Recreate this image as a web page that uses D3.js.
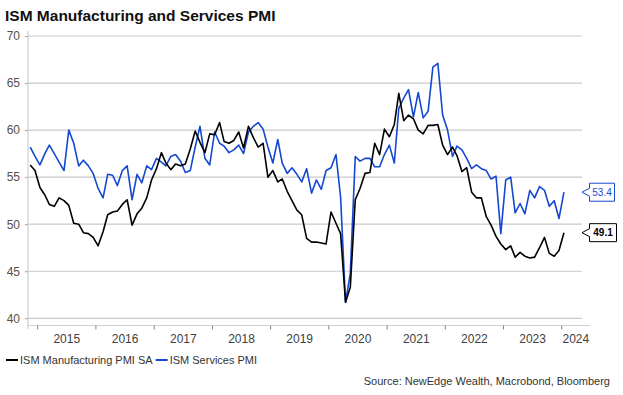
<!DOCTYPE html>
<html>
<head>
<meta charset="utf-8">
<script src="https://cdn.jsdelivr.net/npm/d3@7"></script>
<style>
  html, body { margin: 0; padding: 0; background: #fff; }
  svg { display: block; font-family: "Liberation Sans", Arial, sans-serif; }
</style>
</head>
<body>
<svg id="chart" width="623" height="395"></svg>
<script>
// ---- Data ----
const title = "ISM Manufacturing and Services PMI";
const sourceText = "Source: NewEdge Wealth, Macrobond, Bloomberg";
const seriesNames = ["ISM Manufacturing PMI SA", "ISM Services PMI"];
const startMonth = "2014-11"; // first monthly observation
const yearLabels = ["2015","2016","2017","2018","2019","2020","2021","2022","2023","2024"];
const yTicks = [40, 45, 50, 55, 60, 65, 70];

const manufacturing = [
  56.3, 55.7, 53.9, 53.1, 52.1, 51.9, 52.8, 52.5, 52.0, 50.1, 50.0, 49.1,
  49.0, 48.6, 47.7, 49.2, 51.0, 51.3, 51.4, 52.1, 52.6, 49.9, 51.1, 51.7,
  52.8, 54.7, 55.9, 57.6, 56.5, 55.8, 56.4, 56.2, 56.4, 58.0, 59.9, 58.7,
  57.6, 59.6, 59.5, 60.8, 58.8, 58.6, 58.9, 59.8, 58.1, 60.4, 59.2, 58.2,
  58.6, 55.0, 55.7, 54.5, 54.8, 53.5, 52.5, 51.5, 51.0, 48.5, 48.1, 48.1,
  48.0, 47.9, 51.3, 50.1, 49.0, 41.7, 43.3, 52.6, 53.8, 55.4, 55.5, 58.6,
  57.4, 60.1, 59.3, 60.6, 63.9, 61.0, 61.6, 61.2, 60.0, 59.6, 60.5, 60.5,
  60.6, 58.4, 57.4, 58.2, 57.3, 55.6, 56.0, 53.4, 52.8, 52.8, 50.8, 49.9,
  48.7, 47.9, 47.3, 47.7, 46.5, 47.0, 46.6, 46.4, 46.5, 47.5, 48.6, 46.9,
  46.6, 47.2, 49.1
];
const services = [
  58.2, 57.2, 56.3, 57.5, 58.4, 57.5, 56.6, 55.7, 60.0, 58.6, 56.2, 56.8,
  56.2, 55.4, 53.8, 52.8, 55.3, 55.2, 54.1, 55.7, 56.2, 52.6, 55.3, 54.4,
  56.2, 55.8, 57.0, 56.6, 56.2, 57.2, 57.4, 56.7, 55.5, 55.7, 58.2, 60.4,
  57.0, 56.3, 59.8, 58.6, 58.3, 57.6, 57.9, 58.4, 57.5, 59.8, 60.4, 60.8,
  60.1, 58.2, 56.5, 59.0, 56.5, 55.4, 56.0, 55.3, 54.5, 55.9, 53.3, 54.7,
  53.7, 55.7, 56.0, 57.4, 52.9, 41.7, 44.8, 57.2, 56.7, 57.0, 57.0, 56.1,
  56.1, 57.4, 58.4, 56.5, 62.3, 63.4, 64.3, 61.4, 64.0, 61.3, 62.0, 66.7,
  67.1, 61.6, 60.0, 57.2, 58.3, 57.9, 57.0, 55.9, 56.3, 55.9, 55.7, 54.8,
  55.1, 49.0, 54.7, 55.0, 51.2, 52.2, 51.1, 53.6, 52.8, 54.0, 53.6, 51.9,
  52.5, 50.6, 53.4
];
const colors = ["#000000", "#1448d1"];

// ---- Layout ----
const svg = d3.select("#chart");
const plot = { left: 28, right: 582, top: 36, bottom: 318.3, axisY: 325.5, axisRight: 590 };

const parseMonth = d3.utcParse("%Y-%m");
const start = parseMonth(startMonth);
const dates = manufacturing.map((_, i) => {
  const m = d3.utcMonth.offset(start, i);
  return new Date(Date.UTC(m.getUTCFullYear(), m.getUTCMonth(), 15));
});

const x = d3.scaleUtc()
  .domain([new Date(Date.UTC(2015,0,1)), new Date(Date.UTC(2024,0,1))])
  .range([37.7, 561.7]);
const y = d3.scaleLinear().domain([40, 70]).range([plot.bottom, plot.top]);

// gridlines
svg.append("g").selectAll("line").data(yTicks).join("line")
  .attr("x1", plot.left).attr("x2", plot.right)
  .attr("y1", d => y(d)).attr("y2", d => y(d))
  .attr("stroke", "#c9c9c9").attr("stroke-width", 1.2);

// y axis
const yAxis = svg.append("g").attr("transform", `translate(${plot.left},0)`)
  .call(d3.axisLeft(y).tickValues(yTicks).tickSize(3).tickPadding(5).tickFormat(d3.format("d")));
yAxis.select(".domain").remove();
yAxis.selectAll(".tick line").attr("stroke", "#9a9a9a");
yAxis.selectAll("text").attr("fill", "#5a4f48").attr("font-size", 12)
  .attr("font-family", "'Liberation Sans', Arial, sans-serif");
svg.append("line").attr("x1", plot.left).attr("x2", plot.left)
  .attr("y1", 31).attr("y2", 329).attr("stroke", "#cfcfcf").attr("stroke-width", 1.2);

// x axis
const yearTicks = yearLabels.map(s => new Date(Date.UTC(+s, 0, 1)));
svg.append("line").attr("x1", plot.left).attr("x2", plot.axisRight)
  .attr("y1", plot.axisY).attr("y2", plot.axisY).attr("stroke", "#cfcfcf").attr("stroke-width", 1.2);
svg.append("g").selectAll("line").data(yearTicks).join("line")
  .attr("x1", d => x(d)).attr("x2", d => x(d))
  .attr("y1", plot.axisY).attr("y2", plot.axisY + 4)
  .attr("stroke", "#808080").attr("stroke-width", 1);
svg.append("g").selectAll("text").data(yearLabels).join("text")
  .attr("x", (d, i) => {
    const a = x(yearTicks[i]);
    const b = i < yearTicks.length - 1 ? x(yearTicks[i + 1]) : plot.axisRight;
    return (a + b) / 2;
  })
  .attr("y", 343).attr("text-anchor", "middle")
  .attr("font-size", 12).attr("fill", "#404040").text(d => d);

// lines
const line = d3.line().x((d, i) => x(dates[i])).y(d => y(d));
[services, manufacturing].forEach((s, k) => {
  const c = k === 0 ? colors[1] : colors[0];
  svg.append("path").datum(s).attr("d", line)
    .attr("fill", "none").attr("stroke", c).attr("stroke-width", 1.6)
    .attr("stroke-linejoin", "round");
});

// end labels (callouts)
function callout(val, color, bold, w) {
  const yy = y(val);
  const x0 = plot.right + 7.5, tip = plot.right;
  const p = d3.path();
  p.moveTo(x0, yy - 4); p.lineTo(x0, yy - 9); p.lineTo(x0 + w, yy - 9);
  p.lineTo(x0 + w, yy + 9); p.lineTo(x0, yy + 9); p.lineTo(x0, yy + 4);
  p.lineTo(tip, yy); p.closePath();
  svg.append("path").attr("d", p.toString()).attr("fill", "#fff")
    .attr("stroke", color).attr("stroke-width", 1);
  svg.append("text").attr("x", x0 + w / 2).attr("y", yy + 3.6)
    .attr("text-anchor", "middle").attr("font-size", 10)
    .attr("font-weight", bold ? "bold" : "normal")
    .attr("fill", color).text(d3.format(".1f")(val));
}
callout(services[services.length - 1], colors[1], false, 25);
callout(manufacturing[manufacturing.length - 1], colors[0], true, 27);

// title
svg.append("text").attr("x", 5).attr("y", 21).attr("font-size", 15.5)
  .attr("font-weight", "bold").attr("fill", "#111").text(title);

// legend
const legend = svg.append("g");
let lx = 6;
seriesNames.forEach((name, i) => {
  legend.append("line").attr("x1", lx).attr("x2", lx + 12).attr("y1", 360).attr("y2", 360)
    .attr("stroke", colors[i]).attr("stroke-width", 2);
  const t = legend.append("text").attr("x", lx + 14).attr("y", 364)
    .attr("font-size", 11).attr("fill", "#333").text(name);
  lx += 14 + t.node().getComputedTextLength() + 3;
});

// source
svg.append("text").attr("x", 610).attr("y", 385).attr("text-anchor", "end")
  .attr("font-size", 11).attr("fill", "#333").text(sourceText);
</script>
</body>
</html>
